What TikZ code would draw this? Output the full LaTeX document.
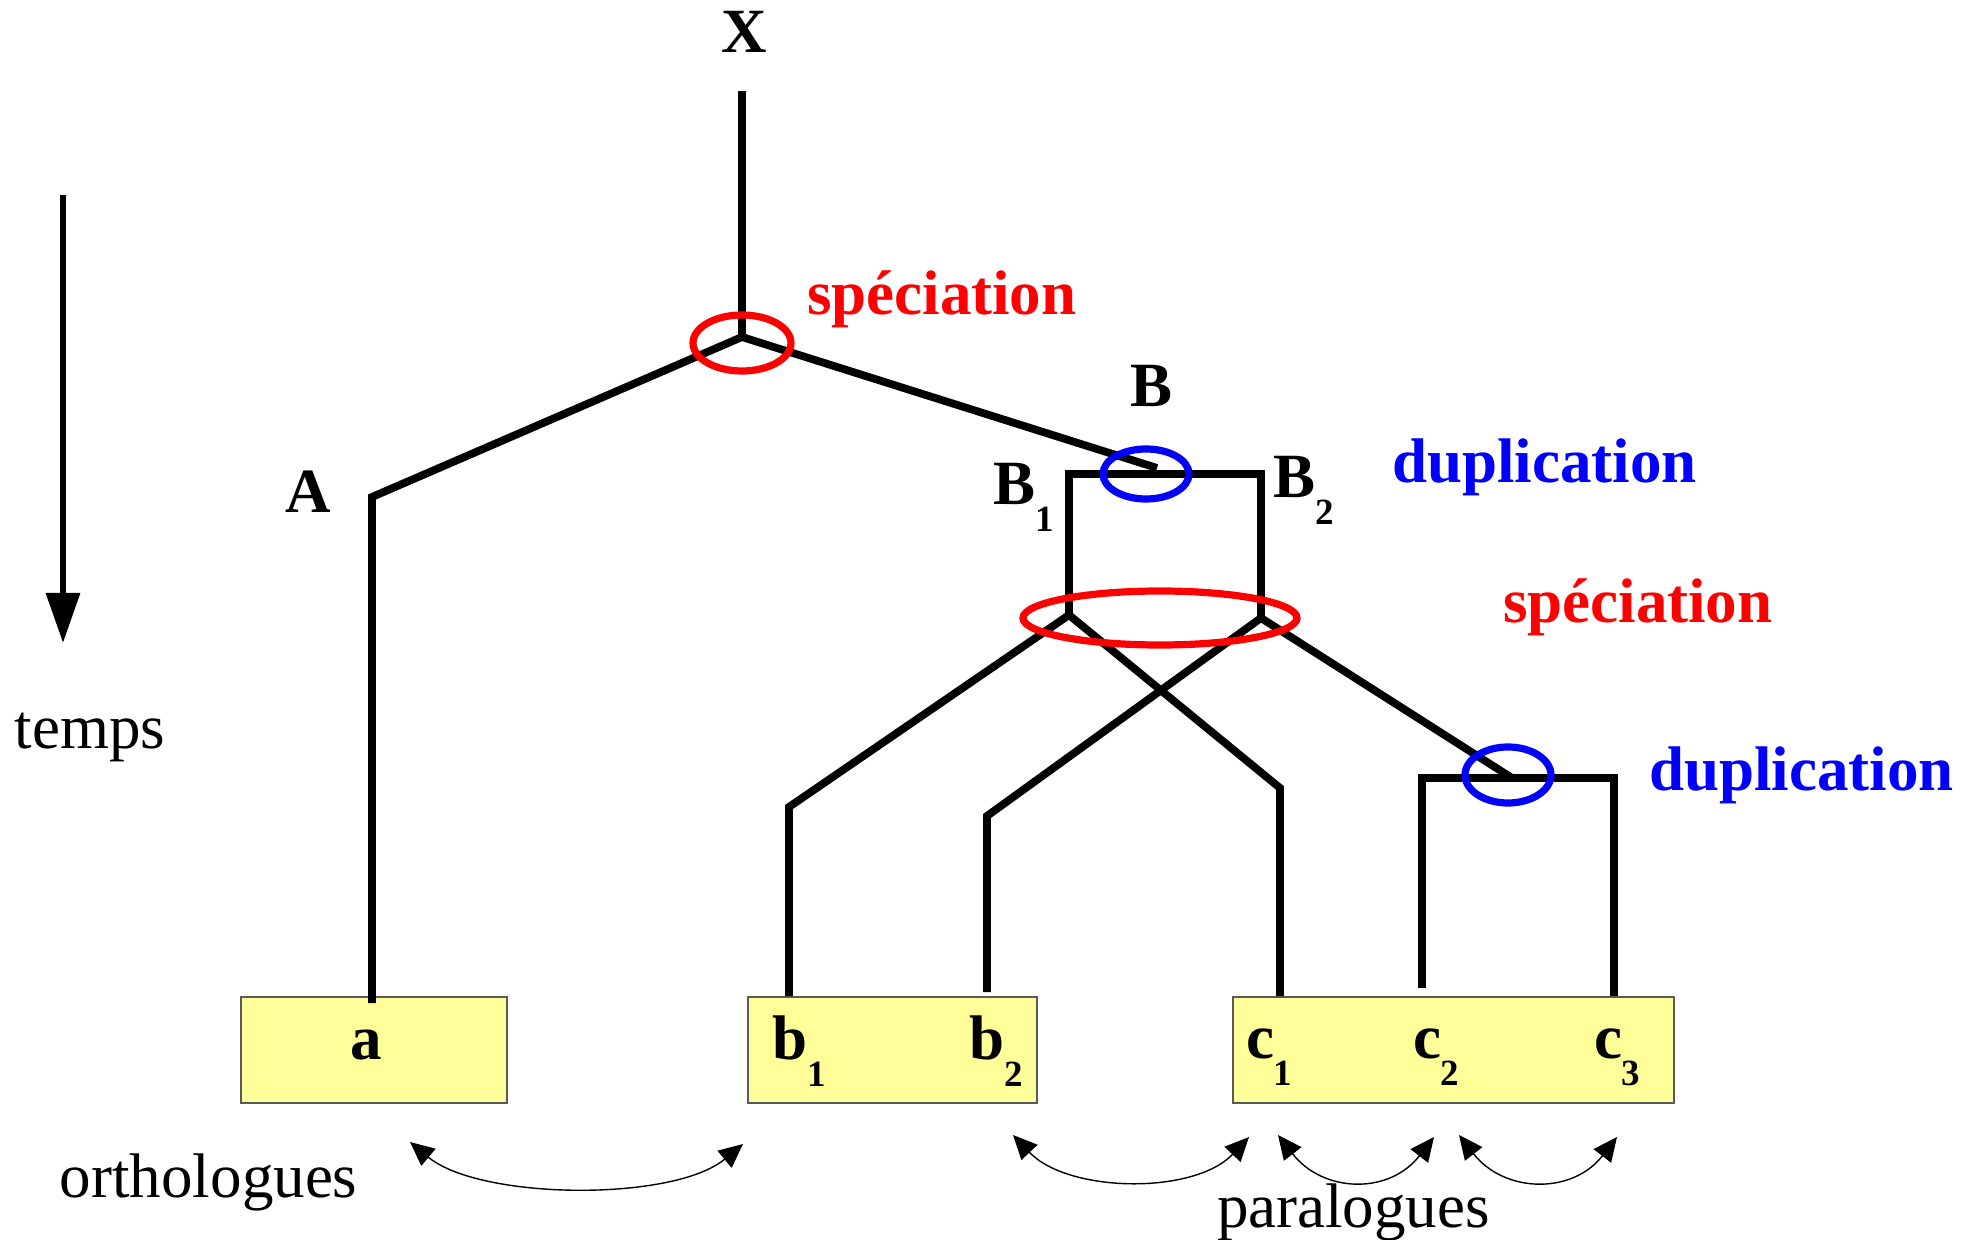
\documentclass[tikz,border=0pt]{standalone}
\usepackage{fontspec}
\setmainfont{Liberation Serif}
\usetikzlibrary{arrows.meta}
\definecolor{leaffill}{RGB}{255,255,153}
\definecolor{leafedge}{RGB}{90,90,90}
% lowered index digit used for gene copies
\newcommand{\geneidx}[1]{\raisebox{-13.5pt}{\fontsize{18.5pt}{20pt}\selectfont #1}}

\begin{document}
\begin{tikzpicture}[x=0.5pt,y=-0.5pt,
  branch/.style={line width=3.9pt, line join=miter},
  event/.style={line width=3.6pt},
  lbl/.style={inner sep=0pt, outer sep=0pt, font=\fontsize{31.5pt}{36pt}\selectfont\bfseries},
  word/.style={inner sep=0pt, outer sep=0pt, font=\fontsize{31.5pt}{36pt}\selectfont},
  leafbox/.style={draw=leafedge, line width=0.8pt, fill=leaffill, inner sep=0pt, anchor=north west, minimum height=53pt},
  rel/.style={line width=0.7pt, {Triangle[length=12pt,width=11pt]}-{Triangle[length=12pt,width=11pt]}},
]
\useasboundingbox (0,0) rectangle (1977,1240);

% species boxes
\node[leafbox, minimum width=133pt]   (boxa) at (240,996)  {};
\node[leafbox, minimum width=144.5pt] (boxb) at (747,996)  {};
\node[leafbox, minimum width=220.5pt] (boxc) at (1232,996) {};

% tree points
\coordinate (top)    at (742,91);
\coordinate (spX)    at (742,337);
\coordinate (cA)     at (372,497);
\coordinate (leafA)  at (372,1003);
\coordinate (dupB)   at (1157,468);
\coordinate (B1)     at (1069,474);
\coordinate (B2)     at (1261,474);
\coordinate (spB1)   at (1069,615);
\coordinate (spB2)   at (1261,618);
\coordinate (cb1)    at (789,807);
\coordinate (leafb1) at (789,996);
\coordinate (cc1)    at (1280,788);
\coordinate (leafc1) at (1280,996);
\coordinate (cb2)    at (987,816);
\coordinate (leafb2) at (987,992);
\coordinate (dupC)   at (1512,778);
\coordinate (C2)     at (1422,778);
\coordinate (leafc2) at (1422,988);
\coordinate (C3)     at (1614,778);
\coordinate (leafc3) at (1614,996);

% branches
\draw[branch] (top) -- (spX);
\draw[branch] (spX) -- (cA) -- (leafA);
\draw[branch] (spX) -- (dupB);
\draw[branch] (spB1) -- (B1) -- (B2) -- (spB2);
\draw[branch] (spB1) -- (cb1) -- (leafb1);
\draw[branch] (spB1) -- (cc1) -- (leafc1);
\draw[branch] (spB2) -- (cb2) -- (leafb2);
\draw[branch] (spB2) -- (dupC);
\draw[branch] (leafc2) -- (C2) -- (C3) -- (leafc3);

% speciation and duplication events
\draw[event, red]  (742,343)  ellipse [x radius=24.5pt, y radius=14pt];
\draw[event, blue] (1146,474) ellipse [x radius=21.5pt, y radius=12.5pt];
\draw[event, red]  (1160,618) ellipse [x radius=68.5pt, y radius=13.5pt];
\draw[event, blue] (1508,775) ellipse [x radius=21.5pt, y radius=14pt];

% time axis
\coordinate (tstart) at (63,195);
\coordinate (tend)   at (63,643);
\draw[line width=3.2pt, -{Triangle[length=25pt,width=16.5pt]}] (tstart) -- (tend);
\node[word, anchor=base west] (temps) at (15,748) {temps};

% labels of the tree
\node[lbl, anchor=base] (lX) at (744,53) {X};
\node[lbl, anchor=base west] (lA) at (285,513) {A};
\node[lbl, anchor=base] (lB) at (1152,407) {B};
\node[lbl, anchor=base west] (lB1) at (993,505) {B\geneidx{1}};
\node[lbl, anchor=base west] (lB2) at (1273,498) {B\geneidx{2}};

\node[lbl, red, anchor=base west]  (sp1)  at (807,315)  {spéciation};
\node[lbl, blue, anchor=base west] (dup1) at (1392,483) {duplication};
\node[lbl, red, anchor=base west]  (sp2)  at (1503,623) {spéciation};
\node[lbl, blue, anchor=base west] (dup2) at (1649,791) {duplication};

% gene labels
\node[lbl, anchor=base west] (ga)  at (350,1059)  {a};
\node[lbl, anchor=base west] (gb1) at (772,1059)  {b\geneidx{1}};
\node[lbl, anchor=base west] (gb2) at (969,1059)  {b\geneidx{2}};
\node[lbl, anchor=base west] (gc1) at (1246,1058) {c\geneidx{1}};
\node[lbl, anchor=base west] (gc2) at (1413,1058) {c\geneidx{2}};
\node[lbl, anchor=base west] (gc3) at (1594,1058) {c\geneidx{3}};

% homology relations
\coordinate (o1) at (410,1142);
\coordinate (o2) at (743,1144);
\coordinate (p1) at (1013,1135);
\coordinate (p2) at (1249,1137);
\coordinate (p3) at (1278,1135);
\coordinate (p4) at (1434,1137);
\coordinate (p5) at (1459,1135);
\coordinate (p6) at (1617,1137);
\draw[rel] (o1) .. controls +(70,58) and +(-70,58) .. (o2);
\draw[rel] (p1) .. controls +(55,58) and +(-55,58) .. (p2);
\draw[rel] (p3) .. controls +(45,58) and +(-45,58) .. (p4);
\draw[rel] (p5) .. controls +(45,58) and +(-45,58) .. (p6);

\node[word, anchor=base west] (ortho) at (60,1197)   {orthologues};
\node[word, anchor=base west] (para)  at (1217,1227) {paralogues};
\end{tikzpicture}
\end{document}
